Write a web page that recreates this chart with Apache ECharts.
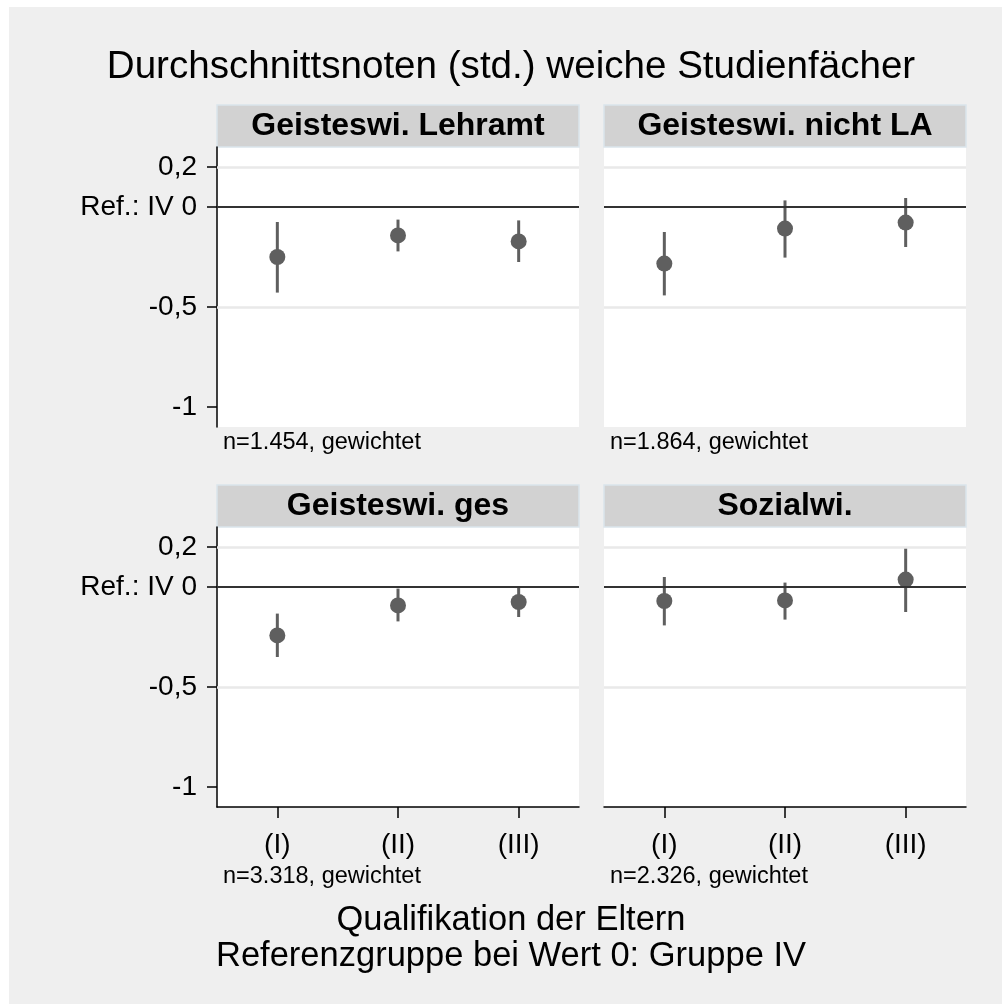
<!DOCTYPE html>
<html>
<head>
<meta charset="utf-8">
<script src="https://cdn.jsdelivr.net/npm/echarts@6/dist/echarts.min.js"></script>
<style>
  html, body { margin: 0; padding: 0; background: #fff; }
  #chart { width: 1002px; height: 1004px; }
</style>
</head>
<body>
<div id="chart"></div>
<script>
// Gruppen der Eltern-Qualifikation
var categories = ['(I)', '(II)', '(III)'];
var panelNames = ['Geisteswi. Lehramt', 'Geisteswi. nicht LA', 'Geisteswi. ges', 'Sozialwi.'];
var panelNotes = ['n=1.454, gewichtet', 'n=1.864, gewichtet', 'n=3.318, gewichtet', 'n=2.326, gewichtet'];

// Schaetzwerte und Konfidenzintervalle je Panel
var est1 = [-0.25, -0.142, -0.172];
var lo1  = [-0.428, -0.222, -0.275];
var hi1  = [-0.075, -0.063, -0.067];

var est2 = [-0.283, -0.108, -0.078];
var lo2  = [-0.442, -0.253, -0.2];
var hi2  = [-0.125, 0.033, 0.045];

var est3 = [-0.242, -0.092, -0.075];
var lo3  = [-0.35, -0.172, -0.15];
var hi3  = [-0.133, -0.008, -0.005];

var est4 = [-0.07, -0.067, 0.037];
var lo4  = [-0.192, -0.163, -0.125];
var hi4  = [0.05, 0.022, 0.195];

var yTicks = [0.2, 0, -0.5, -1];
var gridValues = [0.2, -0.5];

var ests = [est1, est2, est3, est4];
var los = [lo1, lo2, lo3, lo4];
var his = [hi1, hi2, hi3, hi4];

var FONT = "'Liberation Sans', Arial, sans-serif";
var MARK = '#5f5f5f';

// Panel-Rahmen
var boxes = [
  {left: 217, top: 147, width: 362, height: 280},
  {left: 604, top: 147, width: 362, height: 280},
  {left: 217, top: 527, width: 362, height: 280},
  {left: 604, top: 527, width: 362, height: 280}
];

var myChart = echarts.init(document.getElementById('chart'));

var grids = [], xAxes = [], yAxes = [], series = [], graphics = [];

graphics.push({type: 'rect', shape: {x: 0, y: 0, width: 1002, height: 7}, style: {fill: '#fff'}, silent: true});
graphics.push({type: 'rect', shape: {x: 0, y: 0, width: 9, height: 1004}, style: {fill: '#fff'}, silent: true});

for (var i = 0; i < 4; i++) {
  var b = boxes[i];
  var isLeft = (i % 2 === 0), isBottom = (i >= 2);
  grids.push({
    left: b.left, top: b.top, width: b.width, height: b.height,
    show: true, backgroundColor: '#fff', borderWidth: 0
  });
  xAxes.push({
    type: 'category', gridIndex: i, data: categories, boundaryGap: true, position: 'bottom',
    axisLine: {show: isBottom, onZero: false, lineStyle: {color: '#000', width: 1.5}},
    axisTick: {show: isBottom, alignWithLabel: true, length: 11, lineStyle: {color: '#000', width: 1.5}},
    axisLabel: {show: isBottom, color: '#000', fontSize: 28, fontFamily: FONT, margin: 24},
    splitLine: {show: false}
  });
  yAxes.push({
    type: 'value', gridIndex: i, min: -1.1, max: 0.3, position: 'left',
    axisLine: {show: isLeft, onZero: false, lineStyle: {color: '#000', width: 1.5}},
    axisTick: {show: isLeft, length: 10, customValues: yTicks, lineStyle: {color: '#000', width: 1.5}},
    axisLabel: {
      show: isLeft, color: '#000', fontSize: 28, fontFamily: FONT, margin: 20,
      customValues: yTicks,
      formatter: function (v) {
        if (v === 0) return 'Ref.: IV 0';
        return String(v).replace('.', ',');
      }
    },
    splitLine: {show: false}
  });

  var ciData = [], ptData = [];
  for (var k = 0; k < categories.length; k++) {
    ciData.push([k, los[i][k], his[i][k]]);
    ptData.push([k, ests[i][k]]);
  }
  var lines = gridValues.map(function (v) {
    return {yAxis: v, lineStyle: {color: '#e9e9e9', width: 2.5, type: 'solid'}};
  });
  lines.push({yAxis: 0, lineStyle: {color: '#333', width: 2, type: 'solid'}});

  series.push({
    type: 'custom', xAxisIndex: i, yAxisIndex: i, z: 2,
    data: ciData,
    renderItem: function (params, api) {
      var p1 = api.coord([api.value(0), api.value(1)]);
      var p2 = api.coord([api.value(0), api.value(2)]);
      return {type: 'line', shape: {x1: p1[0], y1: p1[1], x2: p2[0], y2: p2[1]},
              style: {stroke: MARK, lineWidth: 3}};
    },
    markLine: {silent: true, symbol: 'none', label: {show: false}, data: lines}
  });
  series.push({
    type: 'scatter', xAxisIndex: i, yAxisIndex: i, z: 3,
    symbol: 'circle', symbolSize: 16,
    itemStyle: {color: MARK, opacity: 1},
    data: ptData
  });

  // Kopfzeile des Panels
  graphics.push({
    type: 'rect', shape: {x: b.left, y: b.top - 42, width: b.width, height: 42},
    style: {fill: '#d2d2d2', stroke: '#dae5ec', lineWidth: 1.5}, silent: true
  });
  graphics.push({
    type: 'text', x: b.left + b.width / 2, y: b.top - 21,
    style: {text: panelNames[i], fill: '#000', font: 'bold 32px ' + FONT,
            textAlign: 'center', textVerticalAlign: 'middle'}, silent: true
  });
  graphics.push({
    type: 'text', x: b.left + 6, y: isBottom ? b.top + b.height + 70 : b.top + b.height + 16,
    style: {text: panelNotes[i], fill: '#000', font: '23.5px ' + FONT,
            textAlign: 'left', textVerticalAlign: 'middle'}, silent: true
  });
}

graphics.push({
  type: 'text', x: 511, y: 67,
  style: {text: 'Durchschnittsnoten (std.) weiche Studienfächer', fill: '#000', font: '38.6px ' + FONT,
          textAlign: 'center', textVerticalAlign: 'middle'}, silent: true
});
graphics.push({
  type: 'text', x: 511, y: 920,
  style: {text: 'Qualifikation der Eltern', fill: '#000', font: '34.5px ' + FONT,
          textAlign: 'center', textVerticalAlign: 'middle'}, silent: true
});
graphics.push({
  type: 'text', x: 511, y: 956,
  style: {text: 'Referenzgruppe bei Wert 0: Gruppe IV', fill: '#000', font: '34.5px ' + FONT,
          textAlign: 'center', textVerticalAlign: 'middle'}, silent: true
});

option = {
  backgroundColor: '#efefef',
  animation: false,
  grid: grids,
  xAxis: xAxes,
  yAxis: yAxes,
  graphic: graphics,
  series: series
};
myChart.setOption(option);
</script>
</body>
</html>
